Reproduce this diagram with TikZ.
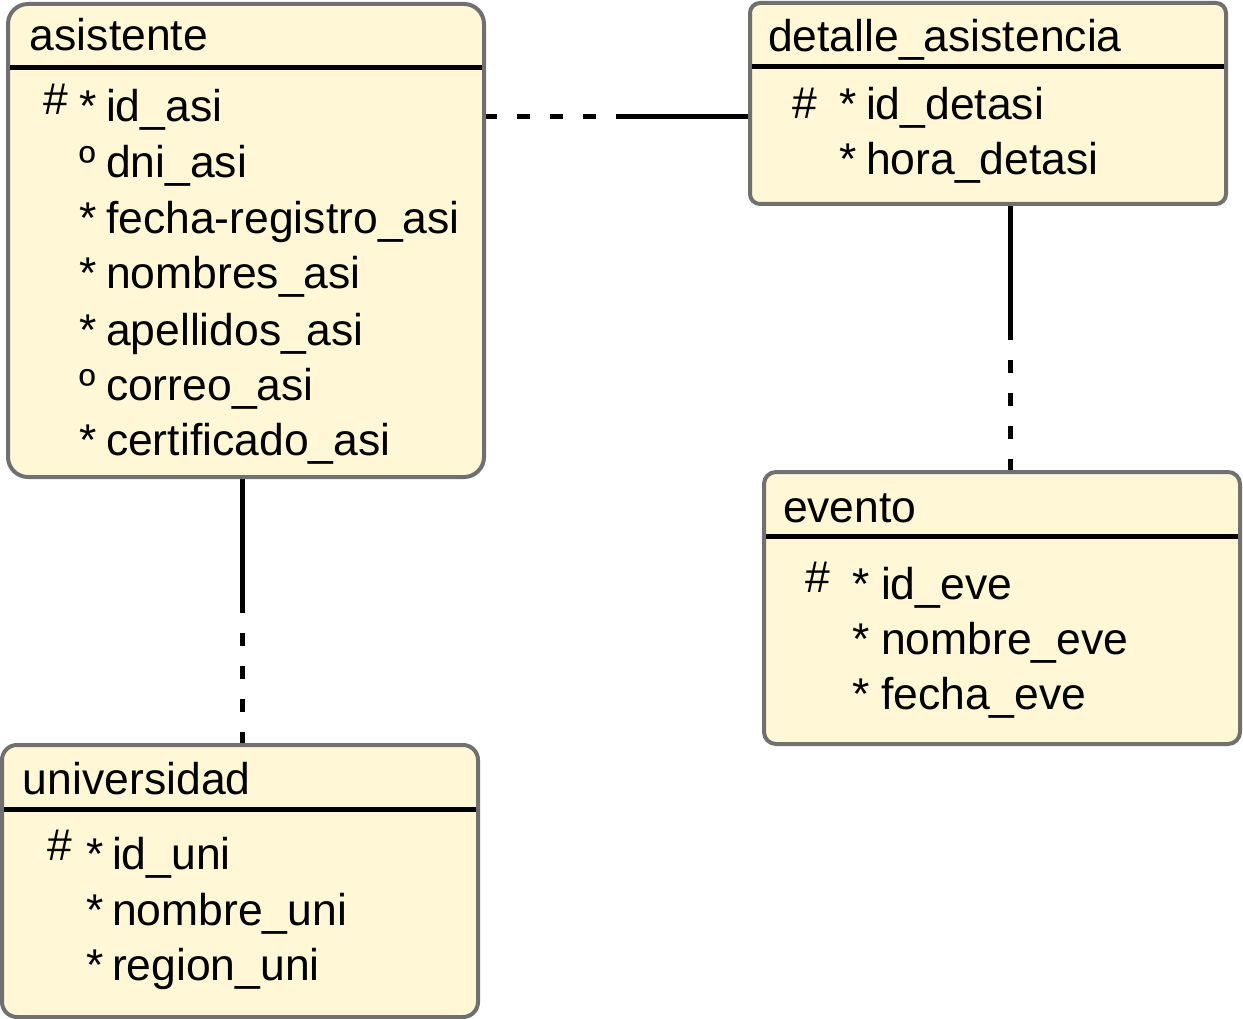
\documentclass[tikz,border=0pt]{standalone}
\usepackage{fontspec}
\setmainfont{Liberation Sans}
\usetikzlibrary{backgrounds}
\definecolor{cream}{RGB}{255,247,213}
\definecolor{bordergray}{RGB}{112,112,112}
\begin{document}
\begin{tikzpicture}[x=1pt,y=-1pt,
  entity/.style={draw=bordergray, line width=4pt, fill=cream, rectangle, anchor=north west, inner sep=0pt, outer sep=0pt},
  hdr/.style={line width=5pt, black},
  lbl/.style={anchor=base west, inner sep=0pt, outer sep=0pt, yshift=-2pt, font=\fontsize{44.5}{50}\selectfont},
  relsolid/.style={line width=5pt, black},
  reldash/.style={line width=5pt, black, dash pattern=on 13pt off 20pt}]
\useasboundingbox (0,0) rectangle (1243,1019);

% entities
\node[entity, rounded corners=20pt, minimum width=476pt, minimum height=473pt] (asis) at (8,4) {};
\node[entity, rounded corners=10pt, minimum width=476pt, minimum height=201pt] (det) at (750,3) {};
\node[entity, rounded corners=12pt, minimum width=476pt, minimum height=272pt] (eve) at (764,472) {};
\node[entity, rounded corners=15pt, minimum width=476pt, minimum height=272pt] (uni) at (2,745) {};

% header rules
\foreach \e in {asis,det,eve,uni}
  \draw[hdr] ([shift={(2pt,-64pt)}]\e.north west) -- ([shift={(-2pt,-64pt)}]\e.north east);

% relationships
\coordinate (m1) at (617,117);
\coordinate (m2) at (242,609);
\coordinate (m3) at (1010,337);
\begin{scope}[on background layer]
  \draw[reldash] (m1 -| asis.east) -- (m1);
  \draw[relsolid] (m1) -- (m1 -| det.west);
  \draw[relsolid] (m2 |- asis.south) -- (m2);
  \draw[reldash] (m2 |- uni.north) -- (m2);
  \draw[relsolid] (m3 |- det.south) -- (m3);
  \draw[reldash] (m3 |- eve.north) -- (m3);
\end{scope}

% asistente
\node[lbl] (asis-t) at (30,49) {asistente};
\node[lbl] (asis-h1) at (43,113) {\#};
\node[lbl] (asis-s1) at (79,120) {*};
\node[lbl] (asis-a1) at (106,120) {id\_asi};
\node[lbl] (asis-s2) at (79,176) {º};
\node[lbl] (asis-a2) at (106,176) {dni\_asi};
\node[lbl] (asis-s3) at (79,232) {*};
\node[lbl] (asis-a3) at (106,232) {fecha-registro\_asi};
\node[lbl] (asis-s4) at (79,287) {*};
\node[lbl] (asis-a4) at (106,287) {nombres\_asi};
\node[lbl] (asis-s5) at (79,343) {*};
\node[lbl] (asis-a5) at (106,343) {apellidos\_asi};
\node[lbl] (asis-s6) at (79,398) {º};
\node[lbl] (asis-a6) at (106,398) {correo\_asi};
\node[lbl] (asis-s7) at (79,453) {*};
\node[lbl] (asis-a7) at (106,453) {certificado\_asi};

% detalle_asistencia
\node[lbl] (det-t) at (768,50) {detalle\_asistencia};
\node[lbl] (det-h1) at (792,117) {\#};
\node[lbl] (det-s1) at (839,118) {*};
\node[lbl] (det-a1) at (866,118) {id\_detasi};
\node[lbl] (det-s2) at (839,173) {*};
\node[lbl] (det-a2) at (866,173) {hora\_detasi};

% evento
\node[lbl] (eve-t) at (783,520) {evento};
\node[lbl] (eve-h1) at (805,590) {\#};
\node[lbl] (eve-s1) at (852,597) {*};
\node[lbl] (eve-a1) at (881,597) {id\_eve};
\node[lbl] (eve-s2) at (852,652) {*};
\node[lbl] (eve-a2) at (881,652) {nombre\_eve};
\node[lbl] (eve-s3) at (852,707) {*};
\node[lbl] (eve-a3) at (881,707) {fecha\_eve};

% universidad
\node[lbl] (uni-t) at (23,792) {universidad};
\node[lbl] (uni-h1) at (47,858) {\#};
\node[lbl] (uni-s1) at (86,867) {*};
\node[lbl] (uni-a1) at (112,867) {id\_uni};
\node[lbl] (uni-s2) at (86,923) {*};
\node[lbl] (uni-a2) at (112,923) {nombre\_uni};
\node[lbl] (uni-s3) at (86,978) {*};
\node[lbl] (uni-a3) at (112,978) {region\_uni};
\end{tikzpicture}
\end{document}
